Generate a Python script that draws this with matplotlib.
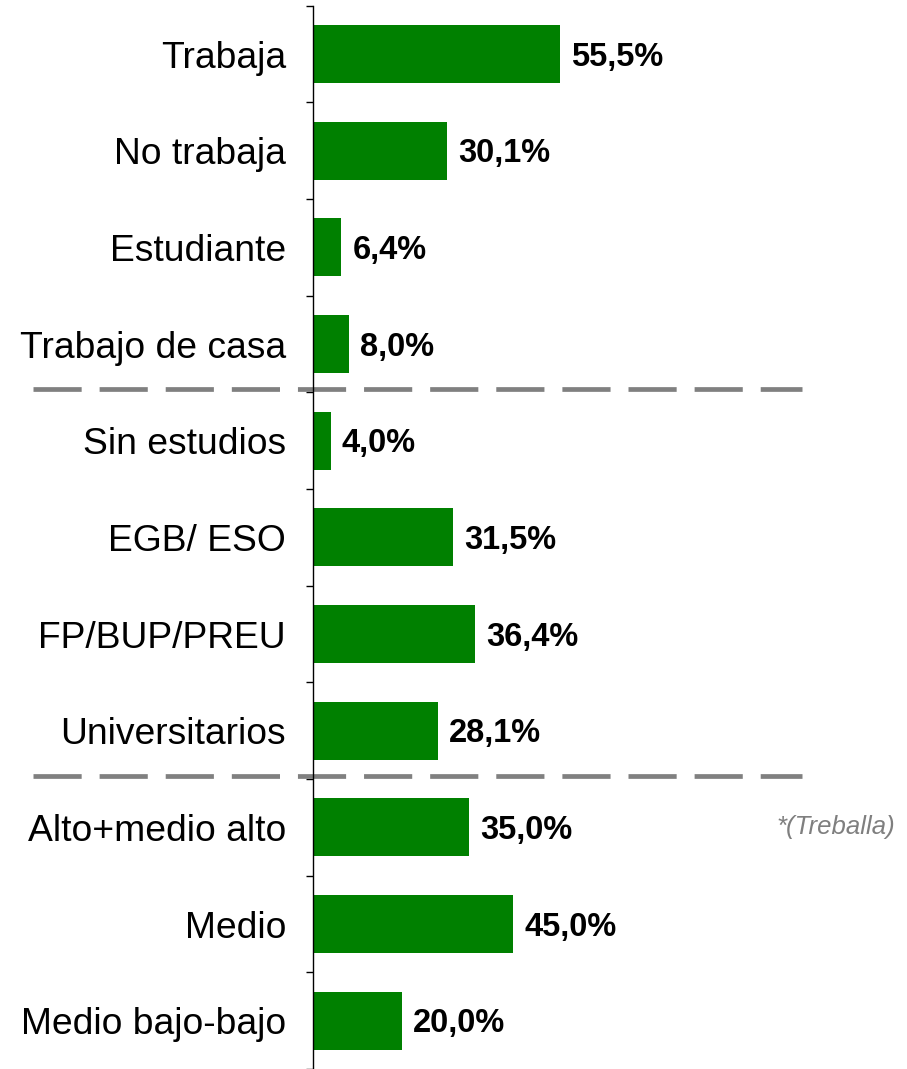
import matplotlib
matplotlib.use('Agg')
import matplotlib.pyplot as plt
import matplotlib.transforms as mtransforms
import numpy as np

plt.rcParams['font.family'] = ['Liberation Sans', 'DejaVu Sans']

# datos
categories = ["Trabaja", "No trabaja", "Estudiante", "Trabajo de casa",
              "Sin estudios", "EGB/ ESO", "FP/BUP/PREU", "Universitarios",
              "Alto+medio alto", "Medio", "Medio bajo-bajo"]
values = [55.5, 30.1, 6.4, 8.0, 4.0, 31.5, 36.4, 28.1, 35.0, 45.0, 20.0]
group_sizes = [4, 4, 3]
note = "*(Treballa)"

W, H = 907, 1069
fig = plt.figure(figsize=(W / 100, H / 100), dpi=100)
ax = fig.add_axes([313 / W, 0, 489.5 / W, 1 - 5.7 / H])

y = np.arange(len(categories))
ax.barh(y, values, height=0.6, color='#008000')

fs_val = 23.5
for yi, v in zip(y, values):
    lbl = f"{v:.1f}".replace('.', ',') + '%'
    ax.annotate(lbl, (v, yi), xytext=(8, -0.358 * fs_val),
                textcoords='offset points', ha='left', va='baseline',
                fontsize=fs_val, fontweight='bold')

ax.set_xlim(0, 110)
ax.set_ylim(len(categories) - 0.53, -0.5)

# etiquetas en el centro, ticks en los limites
ax.set_yticks(y)
ax.set_yticklabels(categories, fontsize=26.8)
ax.tick_params(axis='y', which='major', length=0, pad=19.5)
ax.set_yticks(np.arange(len(categories) + 1) - 0.5, minor=True)
ax.tick_params(axis='y', which='minor', length=5, width=1, direction='out')
ax.set_xticks([])
for s in ['top', 'right', 'bottom']:
    ax.spines[s].set_visible(False)
ax.spines['left'].set_linewidth(1)

# separadores entre grupos
trans = mtransforms.blended_transform_factory(fig.transFigure, ax.transData)
bounds = np.cumsum(group_sizes)[:-1] - 0.53
for b in bounds:
    ax.plot([33 / W, 802 / W], [b, b], transform=trans, color='#808080',
            lw=3.4, dashes=(10.2, 3.8), clip_on=False, solid_capstyle='butt',
            dash_capstyle='butt')

ax.text(895 / W, 8, note, transform=trans, ha='right', va='center',
        fontsize=18.5, style='italic', color='#7f7f7f')

fig.savefig('out.png', dpi=100)
